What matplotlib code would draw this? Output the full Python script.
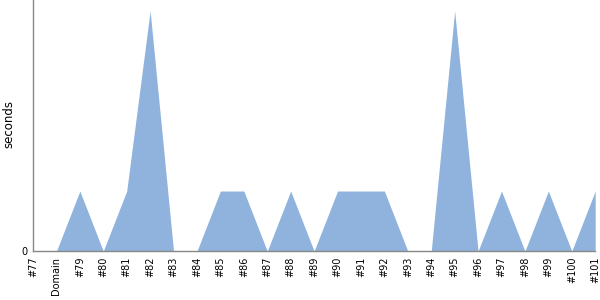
import numpy as np
import matplotlib
matplotlib.use("Agg")
import matplotlib.pyplot as plt

# ── data ───────────────────────────────────────────────
labels = ["#77", "Domain", "#79", "#80", "#81", "#82", "#83", "#84", "#85",
          "#86", "#87", "#88", "#89", "#90", "#91", "#92", "#93", "#94",
          "#95", "#96", "#97", "#98", "#99", "#100", "#101"]
seconds = [0, 0, 1, 0, 1, 4, 0, 0, 1, 1, 0, 1, 0, 1, 1, 1, 0, 0, 4, 0, 1, 0, 1, 0, 1]

# ── plot ───────────────────────────────────────────────
fig = plt.figure(figsize=(6, 3), dpi=100)
ax = fig.add_axes([0.055, 0.163, 0.937, 0.837])

x = np.arange(len(labels))
ax.fill_between(x, 0, seconds, color="#8fb3dc", linewidth=0)

ax.set_xlim(0, len(labels) - 1)
ax.set_ylim(0, 4.18)
ax.set_xticks(x)
ax.set_xticklabels(labels, rotation=90, fontsize=7)
ax.set_yticks([0])
ax.set_yticklabels(["0"], fontsize=7)
ax.tick_params(length=0, pad=4)
ax.set_ylabel("seconds", fontsize=8.5)
ax.yaxis.set_label_coords(-0.032, 0.505)

for s in ["top", "right"]:
    ax.spines[s].set_visible(False)
for s in ["left", "bottom"]:
    ax.spines[s].set_color("#888888")
    ax.spines[s].set_linewidth(1)

fig.savefig("out.png", dpi=100)
